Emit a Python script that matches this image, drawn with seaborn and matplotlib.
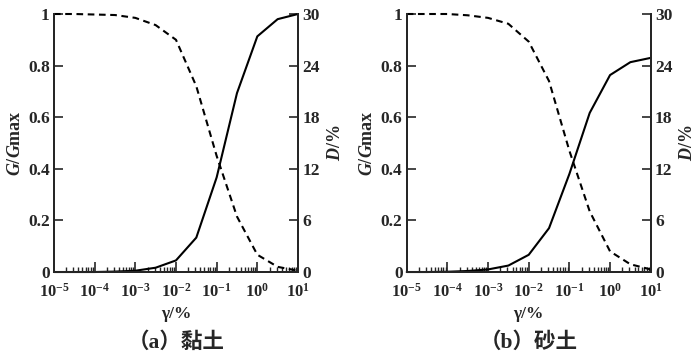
import numpy as np
import pandas as pd
import matplotlib
matplotlib.use("Agg")
import matplotlib.pyplot as plt
import matplotlib.ticker as mticker
import seaborn as sns

# shear strain (%), half-decade points
strain = [1e-5, 3.16e-5, 1e-4, 3.16e-4, 1e-3, 3.16e-3, 1e-2,
          3.16e-2, 1e-1, 3.16e-1, 1e0, 3.16e0, 1e1]

# (a) clay
clay_G = [1.0, 1.0, 0.998, 0.996, 0.985, 0.957, 0.90,
          0.72, 0.45, 0.215, 0.067, 0.02, 0.005]
clay_D = [0.0, 0.0, 0.0, 0.05, 0.15, 0.5, 1.35,
          4.0, 11.0, 20.8, 27.4, 29.4, 30.0]

# (b) sand
sand_G = [1.0, 1.0, 1.0, 0.995, 0.985, 0.962, 0.893,
          0.74, 0.47, 0.235, 0.08, 0.03, 0.01]
sand_D = [0.0, 0.0, 0.03, 0.12, 0.3, 0.75, 2.0,
          5.1, 11.4, 18.5, 22.9, 24.4, 24.9]

panels = [("（a）黏土", clay_G, clay_D), ("（b）砂土", sand_G, sand_D)]
g_ticks = [0, 0.2, 0.4, 0.6, 0.8, 1]
d_ticks = [0, 6, 12, 18, 24, 30]

sns.set_style("ticks")
plt.rcParams['font.family'] = ['Liberation Serif', 'Noto Sans CJK SC']
plt.rcParams['font.weight'] = 'bold'
plt.rcParams['mathtext.fontset'] = 'custom'
plt.rcParams['mathtext.rm'] = 'Liberation Serif:bold'
plt.rcParams['mathtext.it'] = 'Liberation Serif:italic:bold'
plt.rcParams['mathtext.bf'] = 'Liberation Serif:bold'

fig = plt.figure(figsize=(7, 3.59), dpi=100)
lefts = [0.0771, 0.581]
w = 0.3486

for left, (caption, G, D) in zip(lefts, panels):
    ax = fig.add_axes([left, 0.2423, w, 0.7187])
    df = pd.DataFrame({'strain': strain, 'G': G, 'D': D})

    sns.lineplot(data=df, x='strain', y='G', ax=ax, color='black', lw=1.5,
                 dashes=False, clip_on=False)
    ax.lines[-1].set_dashes((3.2, 2.2))
    ax.set_xscale('log')
    ax.set_xlim(1e-5, 1e1)
    ax.set_ylim(0, 1)

    ax2 = ax.twinx()
    sns.lineplot(data=df, x='strain', y='D', ax=ax2, color='black', lw=1.5,
                 clip_on=False)
    ax2.set_ylim(0, 30)
    ax2.set_xlim(1e-5, 1e1)

    for a in (ax, ax2):
        a.spines['top'].set_visible(False)
        for s in a.spines.values():
            s.set_linewidth(1.4)
        a.tick_params(direction='in', width=1.2, length=6.5, labelsize=12.5, pad=3)

    ax.set_yticks(g_ticks)
    ax.yaxis.set_major_formatter(mticker.FuncFormatter(lambda v, p: f'{v:g}'))
    ax2.set_yticks(d_ticks)
    ax.set_xticks([1e-5, 1e-4, 1e-3, 1e-2, 1e-1, 1e0, 1e1])
    ax.xaxis.set_minor_locator(mticker.LogLocator(base=10, subs=np.arange(2, 10), numticks=20))
    ax.xaxis.set_minor_formatter(mticker.NullFormatter())
    ax.tick_params(axis='x', which='major', length=7, pad=7.5, labelsize=12)
    ax.tick_params(axis='x', which='minor', direction='in', length=3.5, width=1.0)

    ax.set_xlabel('γ/%', fontsize=12.5, fontweight='bold', labelpad=4)
    ax.set_ylabel(r'$G$/$G$max', fontsize=13, fontweight='bold', labelpad=3)
    ax2.set_ylabel(r'$D$/%', fontsize=13, fontweight='bold', labelpad=5)

    fig.text(left + w / 2, 0.045, caption, ha='center', va='center',
             fontsize=15.5, fontweight='bold')

fig.savefig('out.png', dpi=100)
